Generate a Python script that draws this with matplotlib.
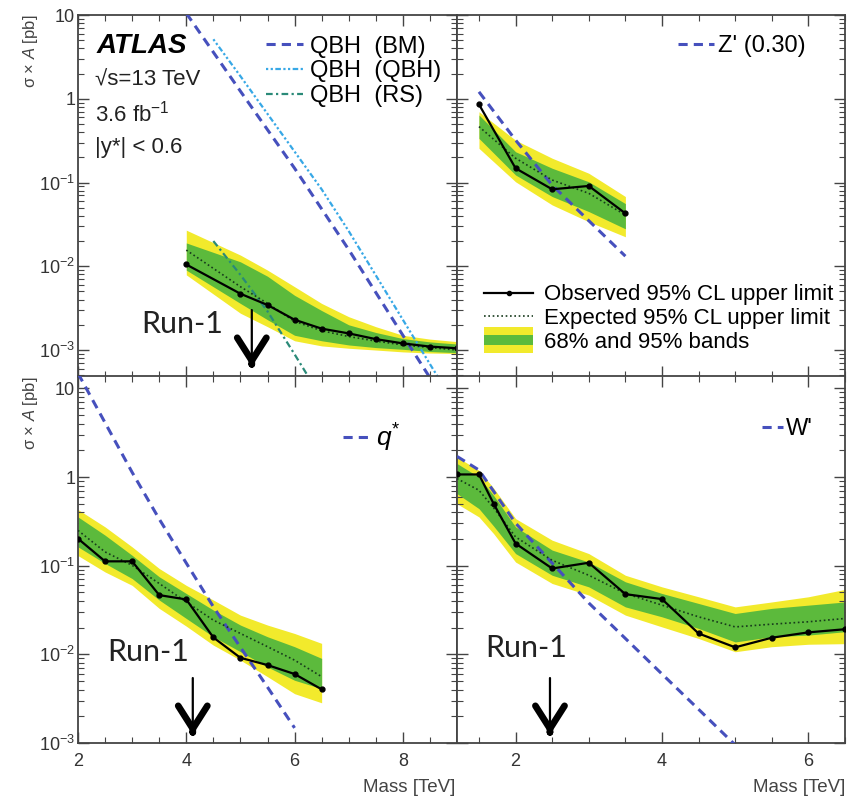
import matplotlib.pyplot as plt
from matplotlib.lines import Line2D
from matplotlib.patches import Rectangle
from matplotlib.legend_handler import HandlerBase
from matplotlib.ticker import MultipleLocator, LogLocator, NullFormatter

plt.rcParams['font.family'] = ['Liberation Sans', 'DejaVu Sans']
plt.rcParams['mathtext.fontset'] = 'custom'
plt.rcParams['mathtext.rm'] = 'Liberation Sans'
plt.rcParams['mathtext.it'] = 'Liberation Sans:italic'
plt.rcParams['mathtext.bf'] = 'Liberation Sans:bold'

# ---- QBH panel (top left) ----
qbh_mass = [4.0, 5.0, 5.5, 6.0, 6.5, 7.0, 7.5, 8.0, 8.5, 9.0]
qbh_obs = [1.05e-2, 4.7e-3, 3.45e-3, 2.3e-3, 1.8e-3, 1.58e-3, 1.35e-3, 1.2e-3, 1.1e-3, 1.05e-3]
qbh_exp = [1.56e-2, 5.7e-3, 3.6e-3, 2.2e-3, 1.7e-3, 1.45e-3, 1.28e-3, 1.15e-3, 1.07e-3, 1.0e-3]
qbh_g_hi = [1.9e-2, 1.13e-2, 7.6e-3, 4.5e-3, 2.96e-3, 2.0e-3, 1.62e-3, 1.37e-3, 1.25e-3, 1.18e-3]
qbh_g_lo = [9.0e-3, 3.6e-3, 2.3e-3, 1.5e-3, 1.29e-3, 1.15e-3, 1.07e-3, 1.02e-3, 9.6e-4, 9.3e-4]
qbh_y_hi = [2.7e-2, 1.36e-2, 9.0e-3, 5.7e-3, 3.6e-3, 2.5e-3, 1.9e-3, 1.5e-3, 1.35e-3, 1.26e-3]
qbh_y_lo = [7.9e-3, 2.75e-3, 1.9e-3, 1.29e-3, 1.12e-3, 1.05e-3, 1.0e-3, 9.5e-4, 9.2e-4, 9.1e-4]

bm_mass = [4.0, 5.0, 6.0, 7.0, 8.0, 8.6]
bm_xs = [10.5, 1.23, 0.148, 0.0158, 1.5e-3, 3.7e-4]
qq_mass = [4.5, 5.0, 5.5, 6.0, 6.5, 7.0, 7.5, 8.0, 8.5, 8.7]
qq_xs = [5.13, 1.86, 0.66, 0.234, 0.083, 0.0263, 7.8e-3, 2.3e-3, 6.8e-4, 4.2e-4]
rs_mass = [4.5, 5.0, 5.5, 6.0, 6.3]
rs_xs = [2.0e-2, 7.9e-3, 2.9e-3, 8.9e-4, 4.3e-4]

# ---- Z' panel (top right) ----
zp_mass = [1.5, 2.0, 2.5, 3.0, 3.5]
zp_obs = [0.857, 0.148, 0.083, 0.091, 0.0428]
zp_exp = [0.465, 0.195, 0.107, 0.0743, 0.041]
zp_g_hi = [0.64, 0.233, 0.148, 0.102, 0.056]
zp_g_lo = [0.336, 0.123, 0.068, 0.045, 0.028]
zp_y_hi = [0.70, 0.32, 0.195, 0.129, 0.068]
zp_y_lo = [0.256, 0.102, 0.054, 0.034, 0.0225]
zp_theory = [1.21, 0.321, 0.093, 0.035, 0.0132]

# ---- q* panel (bottom left) ----
qs_mass = [2.0, 2.5, 3.0, 3.5, 4.0, 4.5, 5.0, 5.5, 6.0, 6.5]
qs_obs = [0.202, 0.112, 0.112, 0.0466, 0.0416, 0.0155, 0.00914, 0.00757, 0.0060, 0.00403]
qs_exp = [0.25, 0.143, 0.101, 0.063, 0.039, 0.0243, 0.0172, 0.0122, 0.0086, 0.0056]
qs_g_hi = [0.355, 0.221, 0.131, 0.075, 0.0486, 0.0316, 0.0214, 0.0158, 0.0122, 0.009]
qs_g_lo = [0.163, 0.106, 0.0716, 0.041, 0.0254, 0.0158, 0.0107, 0.0072, 0.0051, 0.0041]
qs_y_hi = [0.43, 0.274, 0.163, 0.093, 0.060, 0.041, 0.0277, 0.0214, 0.0172, 0.0133]
qs_y_lo = [0.13, 0.085, 0.060, 0.033, 0.0208, 0.0127, 0.0086, 0.0056, 0.0036, 0.00284]
qs_th_mass = [2.0, 2.5, 3.0, 3.5, 4.0, 4.5, 5.0, 5.5, 6.0]
qs_theory = [14.8, 4.1, 1.13, 0.336, 0.107, 0.0344, 0.012, 0.00427, 0.00148]

# ---- W' panel (bottom right) ----
wp_mass = [1.2, 1.5, 1.7, 2.0, 2.5, 3.0, 3.5, 4.0, 4.5, 5.0, 5.5, 6.0, 6.5]
wp_obs = [1.07, 1.07, 0.50, 0.178, 0.093, 0.108, 0.0478, 0.042, 0.0172, 0.012, 0.0154, 0.0177, 0.0192]
wp_exp = [0.96, 0.71, 0.45, 0.211, 0.115, 0.078, 0.0486, 0.0359, 0.0265, 0.0204, 0.0219, 0.0233, 0.0254]
wp_g_hi = [1.42, 1.0, 0.62, 0.274, 0.15, 0.11, 0.0658, 0.0486, 0.0375, 0.0289, 0.033, 0.0359, 0.039]
wp_g_lo = [0.65, 0.44, 0.28, 0.137, 0.078, 0.0577, 0.0343, 0.0265, 0.0196, 0.0138, 0.0158, 0.0165, 0.018]
wp_y_hi = [1.68, 1.19, 0.75, 0.34, 0.194, 0.137, 0.078, 0.0577, 0.0446, 0.0343, 0.039, 0.0446, 0.054]
wp_y_lo = [0.5, 0.355, 0.23, 0.11, 0.063, 0.0466, 0.0277, 0.0204, 0.0151, 0.0107, 0.0122, 0.013, 0.0132]
wp_th_mass = [1.2, 1.5, 2.0, 2.5, 3.0, 3.5, 4.0, 4.5, 5.0]
wp_theory = [1.71, 1.2, 0.302, 0.107, 0.038, 0.0151, 0.006, 0.0024, 0.00095]

y_ticks = [1e-3, 1e-2, 1e-1, 1, 10]
y_tick_labels = ['10$^{-3}$', '10$^{-2}$', '10$^{-1}$', '1', '10']

YELLOW = '#f2ea2c'
GREEN = '#5cba3c'
BLUE = '#4650bd'
LIGHTBLUE = '#37a8e6'
TEAL = '#2a8a78'
FRAME = '#444444'

W, H = 859, 801
fig = plt.figure(figsize=(W / 100, H / 100), dpi=100)


def box(l, t, r, b):
    return [l / W, 1 - b / H, (r - l) / W, (b - t) / H]


ax_tl = fig.add_axes(box(78, 15, 457, 377))
ax_tr = fig.add_axes(box(457, 15, 845, 377))
ax_bl = fig.add_axes(box(78, 376, 457, 743))
ax_br = fig.add_axes(box(457, 376, 845, 743))


def style(ax, xlim, ylim, show_x, show_y):
    ax.set_yscale('log')
    ax.set_xlim(*xlim)
    ax.set_ylim(*ylim)
    ax.xaxis.set_major_locator(MultipleLocator(2))
    ax.xaxis.set_minor_locator(MultipleLocator(0.5))
    ax.set_yticks(y_ticks, y_tick_labels)
    ax.yaxis.set_minor_locator(LogLocator(base=10, subs=range(2, 10), numticks=20))
    ax.yaxis.set_minor_formatter(NullFormatter())
    ax.tick_params(which='both', direction='in', top=True, right=True,
                   color=FRAME, labelcolor='#333333', labelsize=13)
    ax.tick_params(which='major', length=8, width=1.0)
    ax.tick_params(which='minor', length=4.5, width=0.8)
    ax.tick_params(axis='y', pad=2)
    ax.tick_params(axis='x', pad=7)
    if not show_x:
        ax.tick_params(labelbottom=False)
    if not show_y:
        ax.tick_params(labelleft=False)
    for s in ax.spines.values():
        s.set_color(FRAME)
        s.set_linewidth(1.3)


def limit_plot(ax, m, obs, exp, g_lo, g_hi, y_lo, y_hi):
    ax.fill_between(m, y_lo, y_hi, color=YELLOW, lw=0, zorder=1)
    ax.fill_between(m, g_lo, g_hi, color=GREEN, lw=0, zorder=2)
    ax.plot(m, exp, color='#173a1c', ls=(0, (1, 1.6)), lw=1.2, zorder=4)
    ax.plot(m, obs, color='black', lw=1.6, marker='o', ms=3.5, zorder=5)


def run1(ax, x_text, y_text, x_arrow, y_top, y_tip):
    tr = ax.get_xaxis_transform()
    ax.text(x_text, y_text, 'Run-1', transform=tr, ha='center', va='center',
            fontsize=22, family=['Lato', 'DejaVu Sans'], color='#222222', zorder=6)
    ax.annotate('', xy=(x_arrow, y_tip), xytext=(x_arrow, y_top), xycoords=tr, textcoords=tr,
                arrowprops=dict(arrowstyle='-', lw=1.6, color='black', shrinkA=0, shrinkB=0), zorder=6)
    ax.annotate('', xy=(x_arrow, y_tip), xytext=(x_arrow, y_tip + 0.008), xycoords=tr, textcoords=tr,
                arrowprops=dict(arrowstyle='->,head_length=0.55,head_width=0.35', lw=4.8,
                                color='black', shrinkA=0, shrinkB=0, mutation_scale=30), zorder=6)


class BandHandler(HandlerBase):
    def create_artists(self, legend, orig_handle, xdescent, ydescent, width, height, fontsize, trans):
        y0 = -ydescent - 0.35 * height
        hh = 1.7 * height
        outer = Rectangle((-xdescent, y0), width, hh, facecolor=YELLOW, lw=0, transform=trans)
        inner = Rectangle((-xdescent, y0 + 0.3 * hh), width, 0.4 * hh, facecolor=GREEN, lw=0, transform=trans)
        return [outer, inner]


# top left: QBH
style(ax_tl, (2, 9), (10 ** -3.322, 10), False, True)
limit_plot(ax_tl, qbh_mass, qbh_obs, qbh_exp, qbh_g_lo, qbh_g_hi, qbh_y_lo, qbh_y_hi)
l_bm, = ax_tl.plot(bm_mass, bm_xs, color=BLUE, ls=(0, (3, 2)), lw=2.2, zorder=3)
l_qq, = ax_tl.plot(qq_mass, qq_xs, color=LIGHTBLUE, ls=(0, (1, 1.1, 1, 1.1, 2.5, 1.1)), lw=1.6, zorder=3)
l_rs, = ax_tl.plot(rs_mass, rs_xs, color=TEAL, ls=(0, (3, 1.5, 1, 1.5)), lw=1.6, zorder=3)
ax_tl.legend([l_bm, l_qq, l_rs], ['QBH  (BM)', 'QBH  (QBH)', 'QBH  (RS)'],
             loc='upper left', bbox_to_anchor=(0.495, 0.943), frameon=False, fontsize=17,
             handlelength=1.6, handletextpad=0.3, labelspacing=0.12, borderpad=0, borderaxespad=0)
ax_tl.text(0.05, 0.915, 'ATLAS', transform=ax_tl.transAxes, fontsize=20, fontweight='bold',
           fontstyle='italic', va='center', ha='left')
ax_tl.text(0.045, 0.82, '√s=13 TeV', transform=ax_tl.transAxes, fontsize=16, va='center', ha='left',
           color='#222222')
ax_tl.text(0.045, 0.729, '3.6 fb$^{-1}$', transform=ax_tl.transAxes, fontsize=16, va='center', ha='left',
           color='#222222')
ax_tl.text(0.045, 0.635, '|y*| < 0.6', transform=ax_tl.transAxes, fontsize=16, va='center', ha='left',
           color='#222222')
run1(ax_tl, 3.92, 0.146, 5.21, 0.185, 0.028)

# top right: Z'
style(ax_tr, (1.2, 6.5), (10 ** -3.322, 10), False, False)
limit_plot(ax_tr, zp_mass, zp_obs, zp_exp, zp_g_lo, zp_g_hi, zp_y_lo, zp_y_hi)
l_zp, = ax_tr.plot(zp_mass, zp_theory, color=BLUE, ls=(0, (3, 2)), lw=2.2, zorder=3)
leg_zp = ax_tr.legend([l_zp], ["Z' (0.30)"], loc='upper left', bbox_to_anchor=(0.57, 0.945),
                      frameon=False, fontsize=17, handlelength=1.5, handletextpad=0.2,
                      borderpad=0, borderaxespad=0)
ax_tr.add_artist(leg_zp)
h_obs = Line2D([], [], color='black', lw=1.6, marker='o', ms=3)
h_exp = Line2D([], [], color='#173a1c', ls=(0, (1, 1.6)), lw=1.2)
h_band = Rectangle((0, 0), 1, 1)
ax_tr.legend([h_obs, h_exp, h_band],
             ['Observed 95% CL upper limit', 'Expected 95% CL upper limit', '68% and 95% bands'],
             handler_map={Rectangle: BandHandler()}, loc='upper left', bbox_to_anchor=(0.07, 0.256),
             frameon=False, fontsize=16, handlelength=2.2, handletextpad=0.5, labelspacing=0.12,
             borderpad=0, borderaxespad=0)

# bottom left: q*
style(ax_bl, (2, 9), (1e-3, 13.8), True, True)
limit_plot(ax_bl, qs_mass, qs_obs, qs_exp, qs_g_lo, qs_g_hi, qs_y_lo, qs_y_hi)
l_qs, = ax_bl.plot(qs_th_mass, qs_theory, color=BLUE, ls=(0, (3, 2)), lw=2.2, zorder=3)
ax_bl.legend([l_qs], ['$q^{*}$'], loc='upper left', bbox_to_anchor=(0.7, 0.875), frameon=False,
             fontsize=19, handlelength=1.1, handletextpad=0.15, borderpad=0, borderaxespad=0)
run1(ax_bl, 3.29, 0.248, 4.12, 0.177, 0.022)

# bottom right: W'
style(ax_br, (1.2, 6.5), (1e-3, 13.8), True, False)
limit_plot(ax_br, wp_mass, wp_obs, wp_exp, wp_g_lo, wp_g_hi, wp_y_lo, wp_y_hi)
l_wp, = ax_br.plot(wp_th_mass, wp_theory, color=BLUE, ls=(0, (3, 2)), lw=2.2, zorder=3)
ax_br.legend([l_wp], ["W'"], loc='upper left', bbox_to_anchor=(0.785, 0.885), frameon=False,
             fontsize=17, handlelength=0.9, handletextpad=0.15, borderpad=0, borderaxespad=0)
run1(ax_br, 2.15, 0.259, 2.47, 0.177, 0.022)

# axis titles
fig.text(31 / W, 1 - 15 / H, 'σ × $A$ [pb]', rotation=90, ha='center', va='top',
         fontsize=12, color='#444444')
fig.text(31 / W, 1 - 377 / H, 'σ × $A$ [pb]', rotation=90, ha='center', va='top',
         fontsize=12, color='#444444')
fig.text(455 / W, 1 - 787 / H, 'Mass [TeV]', ha='right', va='center', fontsize=13.5, color='#444444')
fig.text(845 / W, 1 - 788 / H, 'Mass [TeV]', ha='right', va='center', fontsize=13.5, color='#444444')

fig.savefig('out.png', dpi=100)
